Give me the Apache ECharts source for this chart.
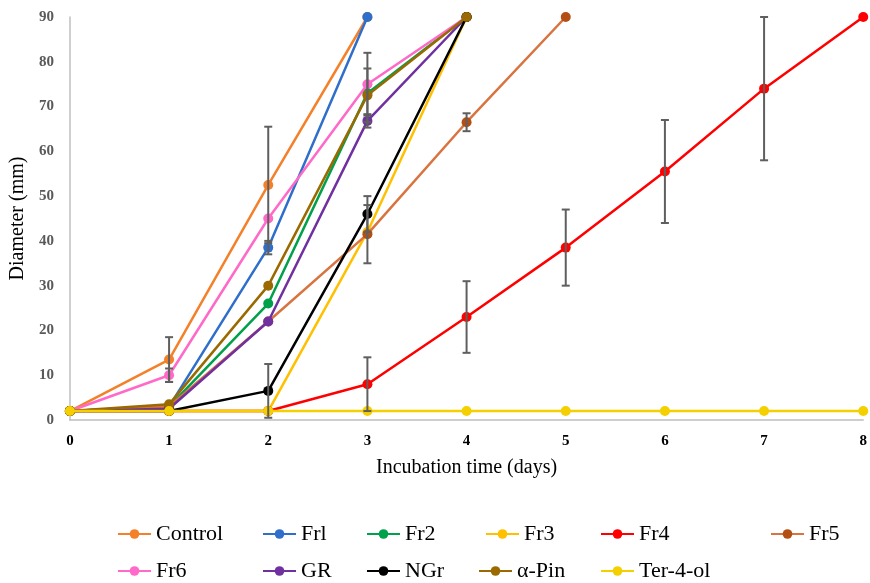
<!DOCTYPE html>
<html>
<head>
<meta charset="utf-8">
<script src="https://cdn.jsdelivr.net/npm/echarts@6/dist/echarts.min.js"></script>
<style>
  html, body { margin: 0; padding: 0; background: #fff; }
  #chart { width: 870px; height: 583px; }
</style>
</head>
<body>
<div id="chart"></div>
<script>
// day index = array position
const names = ["Control", "Frl", "Fr2", "Fr3", "Fr4", "Fr5", "Fr6", "GR", "NGr", "α-Pin", "Ter-4-ol"];

const control = [2, 13.5, 52.5, 90];
const fr1 = [2, 3, 38.5, 90];
const fr2 = [2, 3, 26, 73, 90];
const fr3 = [2, 2, 2, 42, 90];
const fr4 = [2, 2, 2, 8, 23, 38.5, 55.5, 74, 90];
const fr5 = [2, 3, 22, 41.5, 66.5, 90];
const fr6 = [2, 10, 45, 75, 90];
const gr = [2, 2.5, 22, 66.8, 90];
const ngr = [2, 2, 6.5, 46, 90];
const aPin = [2, 3.5, 30, 72.5, 90];
const ter4ol = [2, 2, 2, 2, 2, 2, 2, 2, 2];

// +/- error per day (0 = no bar)
const controlErr = [0, 5, 13, 0];
const fr1Err = [0, 0, 1.5, 0];
const fr4Err = [0, 0, 0, 6, 8, 8.5, 11.5, 16, 0];
const fr5Err = [0, 0, 0, 6.5, 2, 0];
const fr6Err = [0, 1.5, 0, 7, 0];
const grErr = [0, 0, 0, 1.5, 0];
const ngrErr = [0, 0, 6, 4, 0];
const aPinErr = [0, 0, 0, 6, 0];

const values = [control, fr1, fr2, fr3, fr4, fr5, fr6, gr, ngr, aPin, ter4ol];
const errors = [controlErr, fr1Err, null, null, fr4Err, fr5Err, fr6Err, grErr, ngrErr, aPinErr, null];

const lineColors = ["#F4812A", "#2F6FCB", "#00A14B", "#FFC000", "#FF0000", "#D9733F", "#FF69C8", "#7030A0", "#000000", "#9A6A00", "#F5D000"];
const dotColors = ["#F4812A", "#2F6FCB", "#00A14B", "#FFC000", "#FF0000", "#B34F13", "#FF69C8", "#7030A0", "#000000", "#9A6A00", "#F5D000"];

const font = "'Liberation Serif', 'DejaVu Serif', serif";

const chart = echarts.init(document.getElementById("chart"));

const lineSeries = names.map((name, i) => ({
  name: name,
  type: "line",
  data: values[i].map((v, d) => [d, v]),
  symbol: "circle",
  symbolSize: 10,
  lineStyle: { width: 2.5, color: lineColors[i] },
  itemStyle: { color: dotColors[i] },
  z: 2 + i,
}));

const errSeries = [];
errors.forEach((errs, i) => {
  if (!errs) return;
  const data = [];
  errs.forEach((e, d) => {
    if (e > 0) data.push([d, values[i][d] - e, values[i][d] + e]);
  });
  errSeries.push({
    name: "err-" + names[i],
    type: "custom",
    data: data,
    z: 20,
    silent: true,
    renderItem: (params, api) => {
      const lo = api.coord([api.value(0), api.value(1)]);
      const hi = api.coord([api.value(0), api.value(2)]);
      const cap = 4;
      const style = { stroke: "#5f5f5f", lineWidth: 2 };
      return {
        type: "group",
        children: [
          { type: "line", shape: { x1: lo[0], y1: lo[1], x2: hi[0], y2: hi[1] }, style: style },
          { type: "line", shape: { x1: lo[0] - cap, y1: lo[1], x2: lo[0] + cap, y2: lo[1] }, style: style },
          { type: "line", shape: { x1: hi[0] - cap, y1: hi[1], x2: hi[0] + cap, y2: hi[1] }, style: style },
        ],
      };
    },
  });
});

// one legend per entry, placed on the original two-row grid
const legendSlots = [
  ["Control", 117, 523], ["Frl", 262, 523], ["Fr2", 366, 523],
  ["Fr3", 485, 523], ["Fr4", 600, 523], ["Fr5", 770, 523],
  ["Fr6", 117, 560], ["GR", 262, 560], ["NGr", 366, 560],
  ["α-Pin", 478, 560], ["Ter-4-ol", 600, 560],
];

const legends = legendSlots.map(([name, left, top]) => ({
  left: left,
  top: top,
  padding: 0,
  data: [name],
  itemWidth: 33,
  itemHeight: 12,
  textStyle: { fontFamily: font, fontSize: 22, color: "#000" },
}));

chart.setOption({
  animation: false,
  grid: { left: 69, right: 2, top: 17, bottom: 163 },
  legend: legends,
  xAxis: {
    type: "value",
    min: 0,
    max: 8,
    interval: 1,
    name: "Incubation time (days)",
    nameLocation: "middle",
    nameGap: 38,
    nameTextStyle: { fontFamily: font, fontSize: 20, color: "#000" },
    axisLine: { lineStyle: { color: "#BFBFBF", width: 1.5 } },
    axisTick: { show: false },
    splitLine: { show: false },
    axisLabel: { fontFamily: font, fontSize: 15, fontWeight: "bold", color: "#000", margin: 14 },
  },
  yAxis: {
    type: "value",
    min: 0,
    max: 90,
    interval: 10,
    name: "Diameter (mm)",
    nameLocation: "middle",
    nameGap: 33,
    nameTextStyle: { fontFamily: font, fontSize: 20, color: "#000" },
    axisLine: { show: true, lineStyle: { color: "#BFBFBF", width: 1.5 } },
    axisTick: { show: false },
    splitLine: { show: false },
    axisLabel: { fontFamily: font, fontSize: 15, fontWeight: "bold", color: "#595959", margin: 16 },
  },
  series: lineSeries.concat(errSeries),
});
</script>
</body>
</html>
